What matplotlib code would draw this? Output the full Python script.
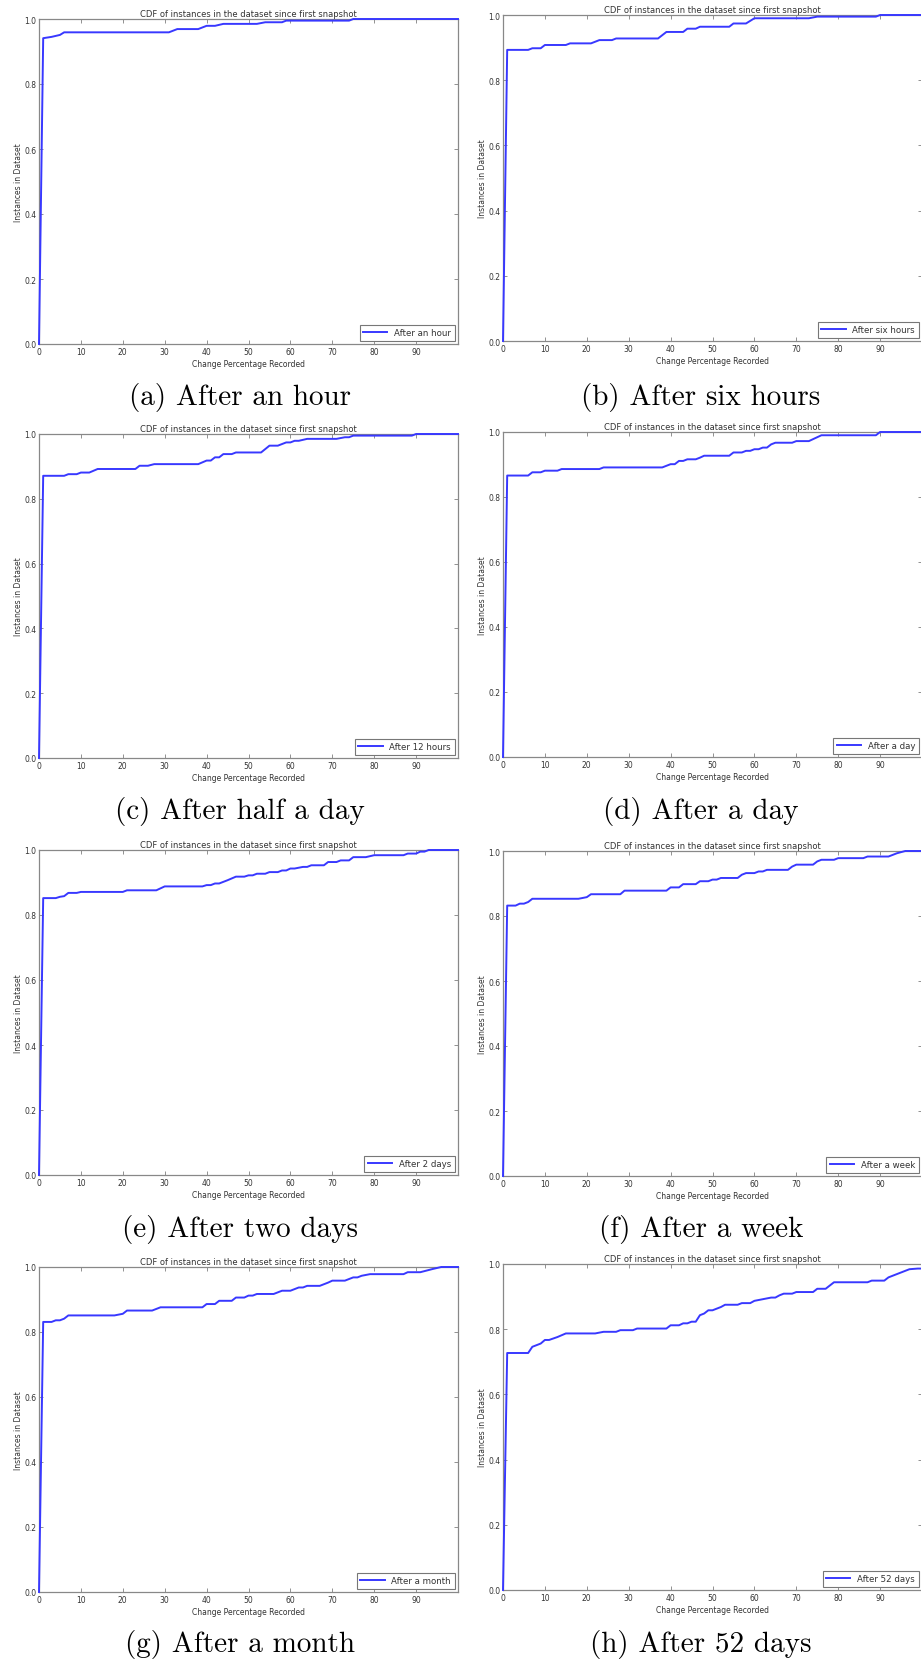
import matplotlib
matplotlib.use("Agg")
import matplotlib.pyplot as plt

# CDF curves (x = change percentage, y = fraction of instances)
hour_x = [0, 1, 3, 5, 6, 31, 33, 38, 40, 42, 44, 52, 54, 58, 59, 74, 75, 100]
hour_y = [0, 0.941, 0.945, 0.951, 0.959, 0.959, 0.969, 0.969, 0.979, 0.979, 0.985, 0.985, 0.99, 0.99, 0.995, 0.995, 1.0, 1.0]

six_x = [0, 1, 6, 7, 9, 10, 15, 16, 21, 23, 26, 27, 37, 39, 43, 44, 46, 47, 54, 55, 58, 60, 73, 75, 89, 90, 100]
six_y = [0, 0.893, 0.893, 0.898, 0.898, 0.908, 0.908, 0.913, 0.913, 0.923, 0.923, 0.928, 0.928, 0.948, 0.948,
         0.958, 0.958, 0.964, 0.964, 0.974, 0.974, 0.99, 0.99, 0.995, 0.995, 1.0, 1.0]

half_x = [0, 1, 6, 7, 9, 10, 12, 14, 23, 24, 26, 27.5, 38, 40, 41, 42, 43, 44, 46, 47, 53, 55, 57, 59, 60,
          61, 62, 64, 71, 73, 74, 75, 89, 90, 100]
half_y = [0, 0.871, 0.871, 0.876, 0.876, 0.881, 0.881, 0.892, 0.892, 0.902, 0.902, 0.907, 0.907, 0.918, 0.918,
          0.928, 0.928, 0.938, 0.938, 0.943, 0.943, 0.964, 0.964, 0.974, 0.974, 0.979, 0.979, 0.985, 0.985,
          0.99, 0.99, 0.995, 0.995, 1.0, 1.0]

day_x = [0, 1, 6, 7, 9, 10, 13, 14, 23, 24, 38, 40, 41, 42, 43, 44, 46, 47, 48, 54, 55, 57, 58, 59, 60,
         61, 62, 63, 64, 65, 69, 70, 73, 76, 89, 90, 100]
day_y = [0, 0.866, 0.866, 0.876, 0.876, 0.881, 0.881, 0.886, 0.886, 0.891, 0.891, 0.901, 0.901, 0.911, 0.911,
         0.916, 0.916, 0.921, 0.927, 0.927, 0.937, 0.937, 0.942, 0.942, 0.947, 0.947, 0.952, 0.952, 0.962,
         0.967, 0.967, 0.972, 0.972, 0.99, 0.99, 1.0, 1.0]

two_x = [0, 1, 4, 5, 6, 7, 9, 10, 20, 21, 28, 30, 39, 40, 41, 42, 43, 44, 45, 47, 49, 50, 51, 52, 54, 55,
         57, 58, 59, 60, 61, 63, 64, 65, 68, 69, 71, 72, 74, 75, 78, 80, 87, 88, 90, 91, 92, 93, 100]
two_y = [0, 0.852, 0.852, 0.856, 0.858, 0.868, 0.868, 0.871, 0.871, 0.876, 0.876, 0.888, 0.888, 0.892, 0.892,
         0.897, 0.897, 0.902, 0.907, 0.918, 0.918, 0.922, 0.922, 0.927, 0.927, 0.932, 0.932, 0.937, 0.937,
         0.943, 0.943, 0.948, 0.948, 0.953, 0.953, 0.963, 0.963, 0.968, 0.968, 0.978, 0.978, 0.984, 0.984,
         0.989, 0.989, 0.995, 0.995, 1.0, 1.0]

week_x = [0, 1, 3, 4, 5, 6, 7, 18, 20, 21, 28, 29, 39, 40, 42, 43, 46, 47, 49, 50, 51, 52, 56, 57, 58, 60,
          61, 62, 63, 68, 69, 70, 74, 75, 76, 79, 80, 86, 87, 92, 94, 96, 100]
week_y = [0, 0.832, 0.832, 0.838, 0.838, 0.843, 0.853, 0.853, 0.858, 0.867, 0.867, 0.878, 0.878, 0.888, 0.888,
          0.898, 0.898, 0.907, 0.907, 0.912, 0.912, 0.917, 0.917, 0.927, 0.932, 0.932, 0.937, 0.937, 0.942,
          0.942, 0.952, 0.958, 0.958, 0.968, 0.973, 0.973, 0.978, 0.978, 0.983, 0.983, 0.993, 1.0, 1.0]

month_x = [0, 1, 3, 4, 5, 6, 7, 18, 20, 21, 27, 29, 39, 40, 42, 43, 46, 47, 49, 50, 51, 52, 56, 58, 60, 62,
           63, 64, 67, 69, 70, 73, 75, 76, 77, 79, 87, 88, 91, 94, 96, 100]
month_y = [0, 0.831, 0.831, 0.836, 0.836, 0.841, 0.851, 0.851, 0.856, 0.866, 0.866, 0.876, 0.876, 0.886, 0.886,
           0.896, 0.896, 0.906, 0.906, 0.912, 0.912, 0.917, 0.917, 0.927, 0.927, 0.937, 0.937, 0.942, 0.942,
           0.952, 0.958, 0.958, 0.968, 0.968, 0.973, 0.978, 0.978, 0.984, 0.984, 0.994, 1.0, 1.0]

d52_x = [0, 1, 6, 7, 9, 10, 11, 13, 15, 22, 24, 27, 28, 31, 32, 39, 40, 42, 43, 44, 45, 46, 47, 48, 49, 50,
         52, 53, 56, 57, 59, 60, 62, 64, 65, 66, 67, 69, 70, 74, 75, 77, 79, 87, 88, 91, 92, 93, 95, 97, 99, 100]
d52_y = [0, 0.727, 0.727, 0.746, 0.756, 0.767, 0.767, 0.776, 0.787, 0.787, 0.792, 0.792, 0.797, 0.797, 0.802,
         0.802, 0.812, 0.812, 0.818, 0.818, 0.823, 0.823, 0.843, 0.848, 0.858, 0.858, 0.868, 0.875, 0.875,
         0.880, 0.880, 0.887, 0.892, 0.897, 0.897, 0.904, 0.909, 0.909, 0.914, 0.914, 0.924, 0.924, 0.944,
         0.944, 0.949, 0.949, 0.959, 0.964, 0.974, 0.984, 0.986, 0.986]

legend_labels = ["After an hour", "After six hours", "After 12 hours", "After a day",
                 "After 2 days", "After a week", "After a month", "After 52 days"]
captions = ["(a) After an hour", "(b) After six hours", "(c) After half a day", "(d) After a day",
            "(e) After two days", "(f) After a week", "(g) After a month", "(h) After 52 days"]

series = [(hour_x, hour_y), (six_x, six_y), (half_x, half_y), (day_x, day_y),
          (two_x, two_y), (week_x, week_y), (month_x, month_y), (d52_x, d52_y)]

W, H = 921, 1665
fig = plt.figure(figsize=(W / 100, H / 100), dpi=100)

# axes boxes in pixels: (left, top, bottom)
boxes = [(39, 20, 345), (503, 16, 342),
         (39, 435, 759), (503, 433, 758),
         (39, 851, 1176), (503, 852, 1177),
         (39, 1268, 1593), (503, 1265, 1591)]
ax_w = 419
caption_y = [398, 398, 812, 812, 1230, 1230, 1645, 1645]
caption_x = [240, 701]

for i, ((xs, ys), (left, top, bottom)) in enumerate(zip(series, boxes)):
    ax = fig.add_axes([left / W, 1 - bottom / H, ax_w / W, (bottom - top) / H])
    ax.plot(xs, ys, color="#3838ff", lw=1.4, label=legend_labels[i], zorder=5, clip_on=False)
    ax.set_xlim(0, 100)
    ax.set_ylim(0, 1.0)
    ax.set_xticks(range(0, 100, 10))
    ax.set_yticks([0.0, 0.2, 0.4, 0.6, 0.8, 1.0])
    ax.set_yticklabels(["0.0", "0.2", "0.4", "0.6", "0.8", "1.0"])
    ax.tick_params(direction="in", top=True, right=True, length=3, width=0.5,
                   labelsize=5.5, pad=2, colors="#666666", labelcolor="#333333")
    for sp in ax.spines.values():
        sp.set_color("#888888")
        sp.set_linewidth(0.9)
    ax.set_title("CDF of instances in the dataset since first snapshot", fontsize=6,
                 color="#333333", pad=2)
    ax.set_xlabel("Change Percentage Recorded", fontsize=5.5, color="#333333", labelpad=2)
    ax.set_ylabel("Instances in Dataset", fontsize=5.5, color="#333333", labelpad=0.5)
    leg = ax.legend(loc="lower right", fontsize=6.2, fancybox=False, framealpha=1,
                    borderaxespad=0.4, handlelength=2.8, borderpad=0.4)
    leg.get_frame().set_edgecolor("#777777")
    leg.get_frame().set_linewidth(0.8)
    for t in leg.get_texts():
        t.set_color("#333333")

    fig.text(caption_x[i % 2] / W, 1 - caption_y[i] / H, captions[i], ha="center", va="center",
             fontfamily="cmr10", fontsize=21)

fig.savefig("out.png", dpi=100, facecolor="white")
